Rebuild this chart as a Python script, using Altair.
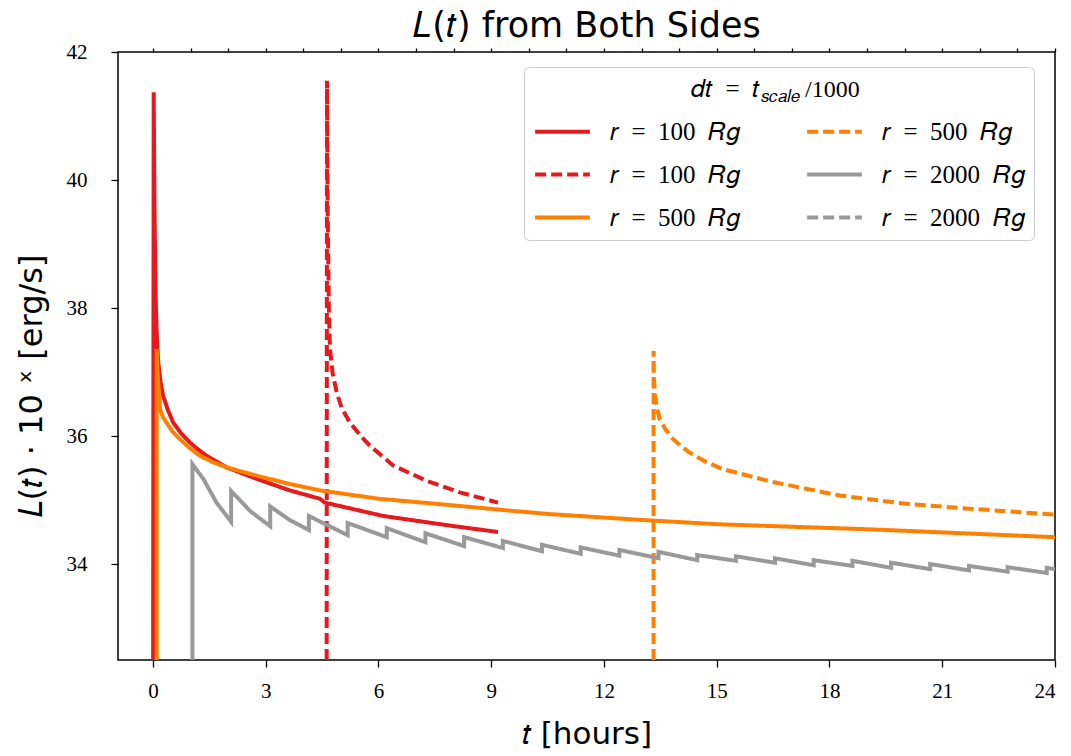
import altair as alt
import pandas as pd

# Luminosity curves, log10 L(t) [erg/s] versus time [hours]
red_solid_t = [0.0, 0.02, 0.04, 0.07, 0.10, 0.14, 0.20, 0.27, 0.40, 0.54, 0.75, 0.98, 1.20, 1.43, 1.96, 2.76, 3.64, 4.44, 4.57, 6.13, 7.90, 9.18]
red_solid_v = [30.0, 41.37, 39.6, 38.2, 37.6, 37.15, 36.85, 36.63, 36.40, 36.21, 36.04, 35.90, 35.79, 35.69, 35.51, 35.33, 35.15, 35.02, 34.96, 34.75, 34.60, 34.50]

red_dashed_t = [4.62, 4.63, 4.65, 4.68, 4.71, 4.78, 4.89, 5.02, 5.24, 5.50, 5.77, 6.39, 7.28, 8.16, 9.18]
red_dashed_v = [30.0, 41.55, 39.5, 38.0, 37.36, 36.98, 36.68, 36.44, 36.21, 36.02, 35.85, 35.54, 35.30, 35.12, 34.96]

orange_solid_t = [0.10, 0.10, 0.12, 0.19, 0.26, 0.36, 0.52, 0.72, 0.98, 1.25, 1.60, 1.96, 2.76, 3.64, 4.44, 6.00, 7.54, 9.76, 10.56, 12.95, 15.08, 19.15, 23.95, 24.0]
orange_solid_v = [30.0, 37.36, 37.0, 36.42, 36.30, 36.21, 36.07, 35.95, 35.81, 35.69, 35.59, 35.51, 35.38, 35.25, 35.15, 35.02, 34.94, 34.82, 34.78, 34.69, 34.62, 34.54, 34.42, 34.42]

orange_dashed_t = [13.32, 13.32, 13.33, 13.36, 13.40, 13.48, 13.64, 13.84, 14.05, 14.28, 14.70, 15.17, 16.50, 18.27, 20.04, 21.82, 24.0]
orange_dashed_v = [30.0, 37.33, 36.9, 36.6, 36.47, 36.27, 36.10, 35.95, 35.84, 35.74, 35.60, 35.48, 35.28, 35.07, 34.94, 34.86, 34.77]

gray_solid_t = [1.05, 1.05, 1.34, 1.69, 2.08, 2.08, 2.60, 3.12, 3.12, 3.63, 4.15, 4.15, 5.18, 5.18,
                6.22, 6.22, 7.25, 7.25, 8.28, 8.28, 9.31, 9.31, 10.35, 10.35, 11.38, 11.38,
                12.41, 12.41, 13.45, 13.45, 14.48, 14.48, 15.51, 15.51, 16.55, 16.55, 17.58, 17.58,
                18.61, 18.61, 19.64, 19.64, 20.68, 20.68, 21.71, 21.71, 22.74, 22.74, 23.78, 23.78, 24.0]
gray_solid_v = [30.0, 35.56, 35.33, 34.96, 34.66, 35.14, 34.82, 34.59, 34.90, 34.69, 34.53, 34.75, 34.45, 34.64,
                34.42, 34.56, 34.34, 34.48, 34.28, 34.42, 34.25, 34.36, 34.20, 34.30, 34.16, 34.26,
                34.13, 34.22, 34.09, 34.19, 34.06, 34.14, 34.05, 34.12, 34.02, 34.09, 33.98, 34.06,
                33.97, 34.05, 33.94, 34.02, 33.92, 34.00, 33.90, 33.97, 33.88, 33.95, 33.86, 33.94, 33.92]

# legend keys: "<radius>|<style>"; the two-column legend fills column by column
legend_keys = ["100|solid", "100|dashed", "500|solid", "500|dashed", "2000|solid", "2000|dashed"]
legend_colors = ["#e41a1c", "#e41a1c", "#ff7f00", "#ff7f00", "#999999", "#999999"]
legend_dashes = [[1, 0], [11, 5], [1, 0], [11, 5], [1, 0], [11, 5]]

# legend heading pieces: main text, subscript, tail
heading_main = ["𝑑𝑡\u2002=\u2002𝑡"]
heading_sub = ["𝑠𝑐𝑎𝑙𝑒"]
heading_tail = ["/1000"]

series = [
    ("100|solid", red_solid_t, red_solid_v),
    ("100|dashed", red_dashed_t, red_dashed_v),
    ("500|solid", orange_solid_t, orange_solid_v),
    ("500|dashed", orange_dashed_t, orange_dashed_v),
    ("2000|solid", gray_solid_t, gray_solid_v),
]
rows = []
for key, ts, vs in series:
    for i, (t, v) in enumerate(zip(ts, vs)):
        rows.append({"key": key, "t": t, "L": v, "i": i})
df = pd.DataFrame(rows)

SANS = "DejaVu Sans"
SERIF = "Liberation Serif"

x_scale = alt.Scale(domain=[-0.93, 24], nice=False, zero=False)
y_scale = alt.Scale(domain=[32.5, 42], nice=False, zero=False)
y_axis = alt.Axis(values=[34, 36, 38, 40, 42], title="𝐿(𝑡) · 10 ˣ [erg/s]", format="d",
                  tickSize=7, labelPadding=24, titlePadding=18, titleY=334, titleFontSize=32)

lines = alt.Chart(df).mark_line(strokeWidth=4, clip=True).encode(
    x=alt.X("t:Q", scale=x_scale,
            axis=alt.Axis(values=list(range(0, 25, 3)), title="𝑡 [hours]", format="d",
                          tickSize=7, labelPadding=13, titlePadding=18)),
    y=alt.Y("L:Q", scale=y_scale, axis=y_axis),
    color=alt.Color("key:N", scale=alt.Scale(domain=legend_keys, range=legend_colors),
                    legend=alt.Legend(
                        title="\u00a0",
                        labelExpr="'𝑟\u2002=\u2002' + split(datum.label, '|')[0] + '\u2002𝑅𝑔'",
                        columns=2, orient="none", legendX=406, legendY=15,
                        symbolType="stroke", symbolSize=3000, symbolStrokeWidth=4,
                        titleFontSize=23, titlePadding=3,
                        labelFont=SERIF, labelFontSize=25, labelOffset=18, labelColor="black",
                        columnPadding=58, rowPadding=-11, padding=9,
                        strokeColor="#cccccc", cornerRadius=5)),
    strokeDash=alt.StrokeDash("key:N", scale=alt.Scale(domain=legend_keys, range=legend_dashes)),
    order="i:Q",
)

# minor hour ticks along the bottom axis
minor = alt.Chart(df).mark_line(opacity=0).encode(
    x=alt.X("t:Q", scale=x_scale,
            axis=alt.Axis(values=list(range(0, 25)), labels=False, title=None, tickSize=4, domain=False)),
    y=alt.Y("L:Q", scale=y_scale, axis=y_axis),
    detail="key:N",
)

# legend heading with a subscript
head_a = alt.Chart(pd.DataFrame({"s": heading_main})).mark_text(
    font=SERIF, fontSize=25, align="right", baseline="alphabetic", color="black"
).encode(x=alt.value(642), y=alt.value(45), text="s:N")
head_b = alt.Chart(pd.DataFrame({"s": heading_sub})).mark_text(
    font=SERIF, fontSize=17, align="left", baseline="alphabetic", color="black"
).encode(x=alt.value(643), y=alt.value(50), text="s:N")
head_c = alt.Chart(pd.DataFrame({"s": heading_tail})).mark_text(
    font=SERIF, fontSize=24, align="left", baseline="alphabetic", color="black"
).encode(x=alt.value(687), y=alt.value(45), text="s:N")

chart = alt.layer(lines, minor, head_a, head_b, head_c).resolve_axis(x="independent").properties(
    width=937, height=608,
    autosize=alt.AutoSizeParams(type="none"),
    padding={"left": 118, "top": 52, "right": 16, "bottom": 96},
    title=alt.TitleParams("𝐿(𝑡) from Both Sides", fontSize=35, font=SANS,
                          fontWeight="normal", anchor="middle", offset=-3, color="black"),
).configure_view(stroke="black", strokeWidth=1.5).configure_axis(
    domain=False, grid=False, tickColor="black", tickWidth=1.3,
    labelFont=SERIF, labelFontSize=21, labelColor="black",
    titleFont=SANS, titleFontSize=31, titleFontWeight="normal", titleColor="black",
)

chart.save("out.html", embed_options={"renderer": "svg", "actions": False})
